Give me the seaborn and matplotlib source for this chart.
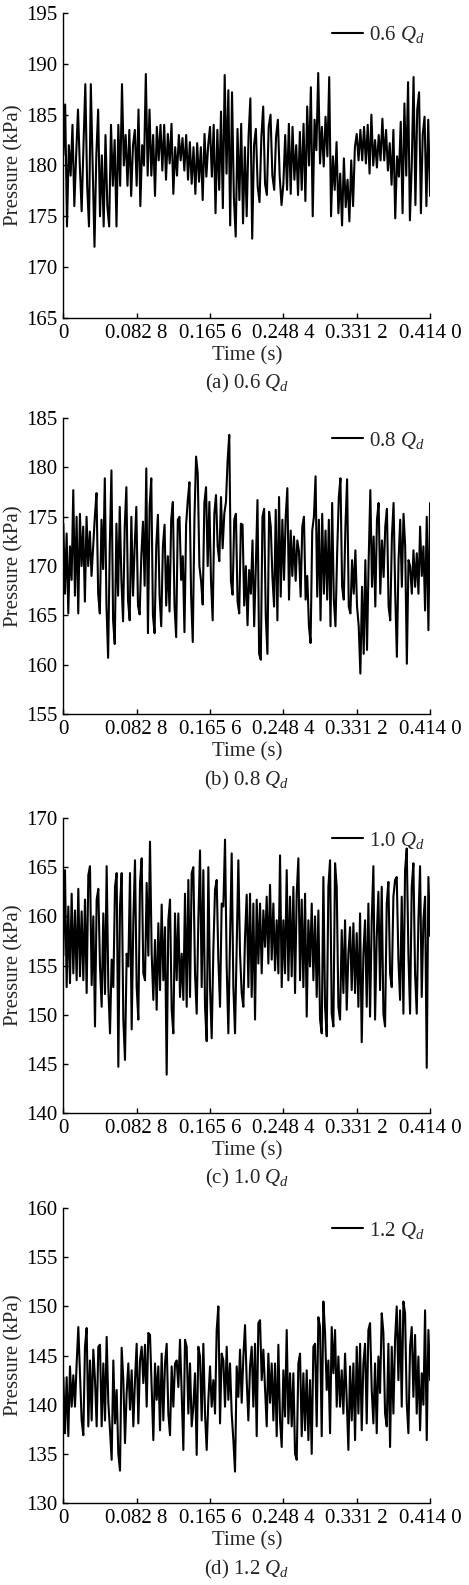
import numpy as np
import matplotlib
matplotlib.use('Agg')
import matplotlib.pyplot as plt
import seaborn as sns

# pressure traces (kPa), equally spaced in time
pressure_06 = [
    181, 186, 174, 182, 179, 184, 176, 181, 185.5, 180, 175.5, 182, 188, 178, 174, 188, 180, 172, 181, 185.5,
    175, 181, 174, 183, 176, 174, 184, 178, 182.5, 174, 184, 178, 188, 180, 183, 178, 183.5, 177, 182, 183.5,
    178, 185.5, 176, 182, 180, 189, 179, 185.5, 179, 183, 177, 183.8, 180.5, 184, 179.5, 184, 178.6, 183.1, 180.2, 184.1,
    177.2, 181.8, 179, 183, 180.5, 182.7, 179.5, 183, 178.6, 182.3, 178.2, 181.8, 177.2, 182.2, 178.4, 181.8, 176.6, 183.1, 178.9, 182,
    183.8, 178.9, 184, 175.3, 183.5, 177.6, 185.3, 175.8, 188.9, 179.2, 187.4, 174.1, 187.2, 176.9, 173, 183.6, 176.6, 184.1, 174.3, 181.8,
    175, 182.8, 186.6, 172.8, 182, 183.6, 177.9, 176.4, 182.8, 185.8, 178.2, 177.1, 183.8, 185, 179, 177.6, 182.8, 184.5, 178.9, 176.1,
    178.2, 183, 177.6, 184.1, 177.2, 183.8, 178.6, 182, 177.1, 183.3, 177.6, 184.1, 176.5, 185.8, 180, 187.7, 175, 184.5, 181.5, 189.1,
    180.2, 183.8, 179.9, 184.8, 180.9, 188.7, 175, 180.9, 177.6, 182.3, 175.3, 179.2, 174.1, 180.7, 175.9, 178.6, 174.5, 180.5, 176, 181.8,
    183.1, 180.5, 183.5, 180.5, 183.8, 180.2, 184, 179.2, 185, 180, 182.5, 179.8, 183, 180.5, 184.6, 180.5, 183.5, 179.5, 182.2, 178.1,
    183.5, 174.8, 180.9, 178.9, 184.3, 175.3, 186.1, 179, 188.2, 174.6, 180, 188.7, 176.1, 185.5, 187.2, 175.3, 183.1, 184.8, 176, 184.5, 177,
]

pressure_08 = [
    174.3, 167.2, 173.3, 165.2, 172, 168.6, 177.7, 167, 175, 165.2,
    175.3, 170, 174, 166.4, 175, 170, 173.5, 169, 172, 175,
    177.4, 167.2, 165.2, 174.7, 169.7, 178.9, 166, 160.7, 172, 179.7,
    164.5, 162.1, 174.3, 167, 176, 168.6, 164.4, 174, 178, 166.5,
    164.5, 175, 167, 172, 176, 166, 165.1, 171, 174.5, 168,
    179.9, 163.2, 176, 178.9, 165, 163.2, 172, 175.2, 167, 163.9,
    172, 174.2, 166, 171, 165.4, 174.7, 176.5, 166, 162.8, 174.7,
    175, 168.6, 171, 163.3, 174.2, 176.7, 178.5, 167, 162.3, 174.7,
    181.1, 179.4, 170, 168.5, 166.1, 176.4, 178, 170, 176.5, 168.5,
    164.5, 175.3, 177.2, 172, 170.5, 177, 171.8, 175.3, 176.5, 180.7,
    183.3, 168.5, 167.1, 174.7, 175.3, 166.4, 165.2, 174.3, 174.2, 166,
    170, 164,
    169.6, 167.2, 172.6, 163.9, 170, 176.7, 161.1, 160.5, 175, 175.8,
    164.9, 161.1, 175.5, 174, 168.9, 165.9, 175.7, 164.5, 177, 166.9,
    174.7, 168.6, 175, 177.9, 166.6, 173.6, 169, 173, 168.5, 172.6,
    171.5, 166.9, 174, 175, 166.6, 169, 163.9, 162.2, 173.6, 175,
    179.1, 166.9, 174.7, 164.5, 175.3, 167.2, 173.6, 166.6, 174.7, 163.9,
    176.4, 166.6, 163.9, 171.3, 177, 178.9, 167.9, 166.6, 174, 178.8,
    165.9, 165.2, 170.6, 167.2, 171.6, 165.9, 163.9, 159.1, 167.9, 161.1,
    170.6, 161.5, 170.6, 177.7, 167.9, 173, 165.9, 174.7, 176.4, 167.2,
    172.6, 168.9, 174, 175.8, 165.9, 164.5, 173, 176.4, 167.2, 160.8,
    170.6, 174.7, 167.9, 175.3, 172, 160.1, 170.6, 170, 167.2, 171.6,
    167.9, 171.3, 167.2, 174, 169, 172, 165.5, 175, 163.5, 176.4,
]

pressure_10 = [
    156, 164.7, 152.8, 161, 153.2, 162.3, 154.2, 160.6, 153.5, 162.8,
    153.9, 160.5, 153.5, 161.7, 152.2, 164.2, 165.1, 153, 160, 148.8,
    161.7, 162.8, 154.9, 150.8, 160.3, 152.1, 165.1, 152.8, 148.1, 155.6,
    152.8, 163, 164.4, 144.7, 161, 164.4, 149.5, 145.4, 156.2, 154.9,
    164.4, 148.5, 159.6, 165.7, 152.8, 149.5, 163.4, 165.9, 154.2, 153.5,
    163.4, 156, 167.6, 156.2, 151.5, 157.6, 150.5, 159.3, 152.5, 161.2,
    153.5, 158.9, 143.9, 159.6, 161.7, 150.5, 148.1, 160.3, 153.5, 160.3,
    151.8, 156.2, 151.5, 162.3, 150.8, 163.7, 151.8, 164.4, 165, 154.2,
    150.1, 159.6, 166.7, 152.8, 164.7, 150.8, 147.3, 165, 152.8, 147.6,
    156.6, 162.7, 163.7, 155.6, 150.8, 161.3, 161, 167.8, 154.9, 148.1,
    157.6, 166.4, 152.8, 148.1, 156.9, 165.7, 156.2, 152.2, 150.8, 157.9,
    162.2, 152.8,
    162.3, 151.8, 161.3, 149.5, 161.7, 155.2, 161.3, 154.2, 160.6, 156.9,
    162, 155.2, 163.2, 155.6, 161.3, 154.5, 159.6, 154.2, 166.2, 152.8,
    159.6, 154.2, 164.7, 153.5, 162, 153.9, 163, 152.2, 162.3, 165.9,
    153.5, 161.7, 152.8, 162.3, 149.8, 159.6, 154.9, 161.3, 153.5, 160,
    151.8, 160.6, 149.5, 148.1, 164, 150.8, 147.8, 163, 165.7, 150.1,
    148.8, 165.4, 163, 150.8, 149.5, 158.6, 152.2, 159.6, 150.5, 156.2,
    158.9, 152.5, 159.3, 152.2, 158.3, 150.8, 160.3, 147.2, 156.2, 159.6,
    150.8, 161.3, 149.8, 159.6, 165.1, 149.5, 157.9, 162.5, 152.5, 163,
    150.1, 148.8, 161.3, 163.5, 154.2, 152.8, 162, 163.7, 164, 155.6,
    151.5, 162, 150.1, 164.7, 166.9, 156.2, 150.1, 163, 165.4, 154.2,
    150.1, 159.6, 165.1, 151.8, 159.6, 162, 144.6, 164, 158,
]

pressure_12 = [
    142.8, 137.1, 142.8, 136.8, 143.9, 139.8, 143, 139.8, 144.2, 147.9,
    143.2, 138.4, 136.9, 145.9, 147.8, 137.8, 144.5, 138.4, 145.6, 142.5,
    137.8, 145.9, 146.1, 137.8, 144.2, 138.4, 146.9, 140.2, 137.4, 134.4,
    144.5, 138.1, 141.5, 135, 133.3, 145.8, 142.5, 136.1, 141.2, 144.2,
    139.5, 143.5, 137.8, 142.5, 146.2, 138.1, 144.5, 145.9, 142.2, 146.1,
    139.8, 147.3, 147.1, 141.8, 136.4, 144.2, 140.5, 143.9, 137.4, 145.2,
    138.4, 144.2, 146.2, 139.1, 136.9, 143.9, 139.8, 144.2, 144.5, 141.8,
    146.6, 141.2, 135.4, 146.6, 145.9, 139.1, 144.2, 137.8, 139.8, 143.2,
    134.9, 145.9, 144.9, 138.4, 146.2, 139.1, 135.4, 140.5, 143.9, 139.8,
    142.5, 139.1, 147.6, 150, 138.1, 145.2, 144.5, 139.8, 145.9, 140.5,
    144.2, 139.1, 136.4, 133.2, 143.9, 140.8, 145.6, 140.2, 144.9, 148.1,
    142.5, 138.4,
    143.9, 145.9, 139.8, 146.2, 136.8, 148.3, 148.6, 142.5, 145.6, 141.8,
    137.8, 145.2, 140.2, 144.2, 138.4, 144.2, 136.8, 146.1, 138.4, 135.7,
    143.5, 138.8, 147.6, 138.1, 143.2, 137.8, 143.2, 135, 134.4, 144.2,
    145.2, 136.8, 143.2, 137.4, 143.5, 136.4, 142.5, 135, 145.9, 146.2,
    137.8, 148.9, 147.9, 136.8, 150.5, 147.3, 141.5, 144.5, 137.1, 147.9,
    143.2, 147.6, 139.8, 144.9, 139.8, 143.5, 139.1, 145.2, 140.5, 135.4,
    143.9, 138.4, 144.2, 136.4, 145.9, 139.1, 146.2, 137.4, 144.2, 146.2,
    138.1, 147.6, 148.3, 141.5, 138.1, 144.2, 137.1, 144.9, 141.2, 149.3,
    147.3, 139.1, 137.8, 146.2, 135.7, 145.9, 139.1, 146.6, 150, 142.5,
    149.6, 139.8, 150.5, 149.3, 140.2, 137.1, 145.9, 147.9, 140.8, 147.1,
    139.1, 144.9, 137.4, 143.2, 140, 149.6, 136.4, 147.6, 142.5,
]

flow_labels = ['0.6', '0.8', '1.0', '1.2']
panel_letters = ['a', 'b', 'c', 'd']
y_lower = [165, 155, 140, 130]
t_end = 0.414
x_ticks = [0, 0.0828, 0.1656, 0.2484, 0.3312, 0.414]
x_tick_labels = ['0', '0.082 8', '0.165 6', '0.248 4', '0.331 2', '0.414 0']

sns.set_style('ticks')
plt.rcParams['font.family'] = ['Liberation Serif', 'DejaVu Serif']
plt.rcParams['mathtext.fontset'] = 'custom'
plt.rcParams['mathtext.rm'] = 'Liberation Serif'
plt.rcParams['mathtext.it'] = 'Liberation Serif:italic'
plt.rcParams['font.size'] = 15

fig = plt.figure(figsize=(4.69, 15.85), dpi=100)
boxes = [
    [0.135, 0.7994, 0.782, 0.1924],
    [0.135, 0.5495, 0.782, 0.1867],
    [0.135, 0.2978, 0.782, 0.1861],
    [0.135, 0.0517, 0.782, 0.1861],
]
series = [pressure_06, pressure_08, pressure_10, pressure_12]

for box, vals, q, letter, lo in zip(boxes, series, flow_labels, panel_letters, y_lower):
    ax = fig.add_axes(box)
    t = np.linspace(0, t_end, len(vals))
    sns.lineplot(x=t, y=vals, ax=ax, color='black', linewidth=1.5,
                 label=q + r' $Q_d$')
    ax.set_xlim(0, t_end)
    ax.set_ylim(lo, lo + 30)
    ax.set_yticks(np.arange(lo, lo + 31, 5))
    ax.set_xticks(x_ticks)
    ax.set_xticklabels(x_tick_labels)
    ax.tick_params(direction='in', length=3.6, width=1, pad=4, labelsize=15, colors='black')
    for s in ['left', 'bottom']:
        ax.spines[s].set_linewidth(1)
        ax.spines[s].set_color('black')
    sns.despine(ax=ax)
    ax.set_xlabel('')
    ax.set_ylabel('Pressure (kPa)', fontsize=15, labelpad=2)
    h_px = box[3] * 1585
    ax.legend(loc='center left', bbox_to_anchor=(0.733, 1 - 22 / h_px), frameon=False,
              handlelength=1.5, handletextpad=0.25, borderpad=0, borderaxespad=0, fontsize=15)
    ax.annotate('Time (s)', xy=(0.5, 0), xycoords='axes fraction', xytext=(0, -27.5),
                textcoords='offset points', ha='center', va='center', fontsize=15)
    ax.annotate('(' + letter + ') ' + q + r' $Q_d$', xy=(0.5, 0), xycoords='axes fraction',
                xytext=(0, -47.5), textcoords='offset points', ha='center', va='center', fontsize=15)

fig.savefig('out.png', dpi=100)
